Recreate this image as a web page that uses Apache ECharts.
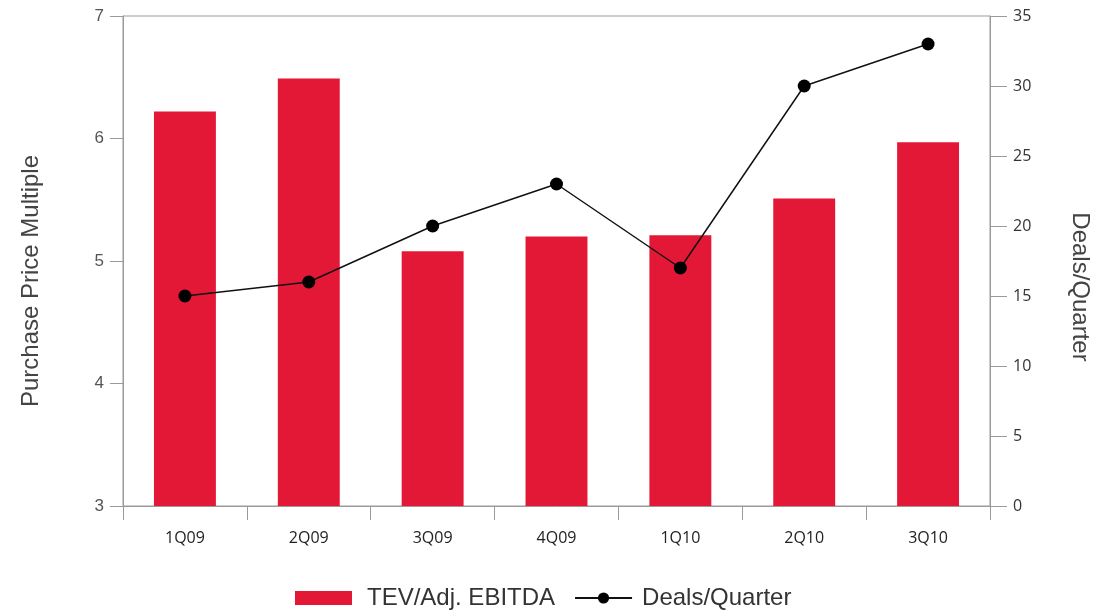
<!DOCTYPE html>
<html>
<head>
<meta charset="utf-8">
<script src="https://cdn.jsdelivr.net/npm/echarts@6/dist/echarts.min.js"></script>
<style>
  html, body { margin: 0; padding: 0; background: #fff; }
  #chart { width: 1103px; height: 611px; }
</style>
</head>
<body>
<div id="chart"></div>
<script>
// Quarterly purchase price multiples and deal counts
const quarters = ['1Q09', '2Q09', '3Q09', '4Q09', '1Q10', '2Q10', '3Q10'];
const tevEbitda = [6.22, 6.49, 5.08, 5.20, 5.21, 5.51, 5.97];
const dealsPerQuarter = [15, 16, 20, 23, 17, 30, 33];

const axisGray = '#9a9a9a';
const narrow = '"Open Sans", sans-serif';
const plain = '"Liberation Sans", Arial, sans-serif';

const chart = echarts.init(document.getElementById('chart'), null, { renderer: 'canvas' });

chart.setOption({
  backgroundColor: '#ffffff',
  animation: false,
  grid: {
    left: 123, right: 113, top: 16, bottom: 105,
    show: true, borderColor: axisGray, borderWidth: 1
  },
  legend: {
    left: 295,
    bottom: 1,
    padding: 0,
    itemWidth: 57,
    itemHeight: 14,
    itemGap: 19,
    textStyle: { fontFamily: plain, fontSize: 24, color: '#333', padding: [0, 0, 0, 10] },
    data: [
      { name: 'TEV/Adj. EBITDA', icon: 'rect' },
      { name: 'Deals/Quarter', textStyle: { padding: [0, 0, 0, 5] } }
    ]
  },
  xAxis: {
    type: 'category',
    data: quarters,
    boundaryGap: true,
    axisLine: { lineStyle: { color: axisGray, width: 1 } },
    axisTick: { show: true, length: 14, alignWithLabel: false, lineStyle: { color: axisGray } },
    axisLabel: { margin: 24, fontFamily: narrow, fontSize: 16, color: '#222' }
  },
  yAxis: [
    {
      type: 'value',
      min: 3, max: 7, interval: 1,
      name: 'Purchase Price Multiple',
      nameLocation: 'middle',
      nameGap: 80,
      nameRotate: 90,
      nameTextStyle: { fontFamily: plain, fontSize: 24, color: '#444', padding: [0, 40, 0, 0] },
      axisLine: { show: true, lineStyle: { color: axisGray } },
      axisTick: { show: true, length: 13, lineStyle: { color: axisGray } },
      axisLabel: { margin: 19, fontFamily: plain, fontSize: 17, color: '#555' },
      splitLine: { show: false }
    },
    {
      type: 'value',
      min: 0, max: 35, interval: 5,
      position: 'right',
      name: 'Deals/Quarter',
      nameLocation: 'middle',
      nameGap: 78,
      nameRotate: -90,
      nameTextStyle: { fontFamily: plain, fontSize: 24, color: '#444', padding: [0, 0, 0, 52] },
      axisLine: { show: true, lineStyle: { color: axisGray } },
      axisTick: { show: true, length: 17, lineStyle: { color: axisGray } },
      axisLabel: { margin: 23, fontFamily: narrow, fontSize: 16, color: '#333' },
      splitLine: { show: false }
    }
  ],
  series: [
    {
      name: 'TEV/Adj. EBITDA',
      type: 'bar',
      yAxisIndex: 0,
      data: tevEbitda,
      barWidth: '50%',
      itemStyle: { color: '#E31837' }
    },
    {
      name: 'Deals/Quarter',
      type: 'line',
      yAxisIndex: 1,
      data: dealsPerQuarter,
      symbol: 'circle',
      symbolSize: 13,
      lineStyle: { color: '#111', width: 1.5 },
      itemStyle: { color: '#000' }
    }
  ]
});
</script>
</body>
</html>
